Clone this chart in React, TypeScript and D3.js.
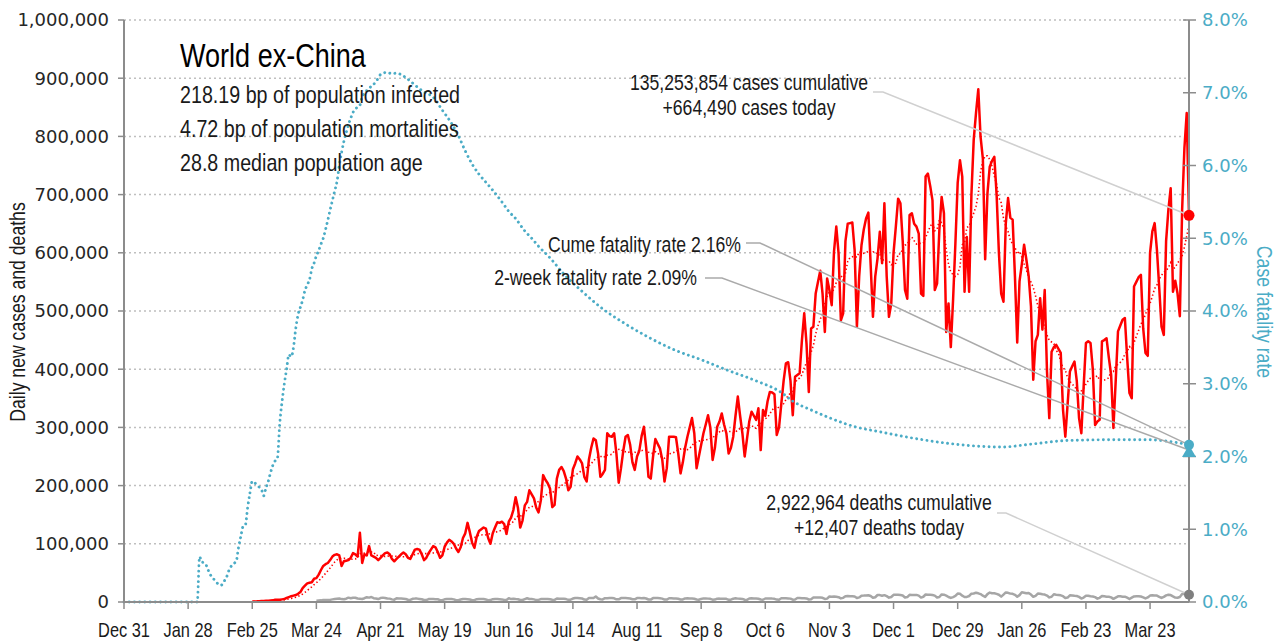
import React from 'react';
import * as d3 from 'd3';

// daily new cases, thousands, from Dec 31 2019 (one row = one week, Tue..Mon)
const dailyCases = [
    0, 0, 0, 0, 0, 0, 0,
    0, 0, 0, 0, 0, 0, 0,
    0, 0, 0, 0, 0, 0, 0,
    0, 0, 0, 0, 0.01, 0.01, 0.01,
    0.01, 0.01, 0.01, 0.02, 0.01, 0.01, 0.02,
    0.02, 0.01, 0.02, 0.03, 0.02, 0.02, 0.04,
    0.04, 0.03, 0.05, 0.07, 0.08, 0.1, 0.14,
    0.2, 0.25, 0.4, 0.5, 0.35, 0.55, 0.8,
    0.9, 1.0, 1.2, 1.5, 1.8, 1.8, 2.0,
    2.2, 2.5, 2.8, 3.8, 4.0, 3.8, 4.5,
    5.0, 7.0, 8.5, 10, 11, 12, 14,
    17, 24, 28, 32, 33, 34, 40,
    41, 47, 55, 62, 65, 67, 72,
    78, 81, 82, 80, 62, 70, 71,
    72, 76, 84, 82, 78, 119, 67,
    82, 80, 96, 80, 78, 76, 72,
    76, 80, 84, 85, 82, 74, 70,
    74, 78, 82, 85, 82, 76, 74,
    82, 90, 91, 90, 82, 72, 76,
    84, 90, 96, 94, 86, 76, 80,
    95, 102, 107, 104, 100, 92, 86,
    94, 110, 118, 136, 120, 102, 93,
    112, 122, 125, 128, 126, 110, 100,
    118, 128, 137, 136, 138, 134, 117,
    138, 145, 158, 180, 162, 128, 140,
    166, 172, 192, 185, 178, 162, 154,
    175, 218, 210, 204, 195, 163, 167,
    212, 227, 232, 225, 212, 192, 198,
    228, 238, 250, 245, 238, 215, 207,
    245, 265, 281, 278, 255, 215, 220,
    227, 290, 285, 284, 290, 255, 205,
    230, 260, 284, 287, 270, 240, 227,
    250, 260, 285, 301, 265, 215, 212,
    250, 280, 272, 264, 245, 207, 230,
    284, 284, 284, 283, 255, 221, 240,
    265, 284, 300, 316, 290, 230, 250,
    270, 290, 305, 321, 300, 244, 265,
    301, 310, 324, 305, 290, 255, 265,
    284, 320, 353, 320, 290, 250, 280,
    310, 327, 320, 313, 333, 261, 330,
    320, 345, 361, 360, 357, 287, 300,
    341, 380, 410, 412, 380, 321, 387,
    390, 393, 450, 496, 444, 361, 470,
    473, 530, 550, 569, 530, 464, 556,
    536, 510, 602, 645, 599, 484, 496,
    620, 650, 651, 652, 605, 473, 560,
    613, 640, 659, 669, 580, 490, 559,
    590, 636, 582, 685, 560, 490, 513,
    600, 645, 693, 685, 620, 536, 521,
    665, 668, 650, 645, 633, 530, 526,
    731, 736, 715, 690, 536, 547, 639,
    696, 668, 464, 513, 438, 520, 616,
    720, 759, 731, 533, 627, 533, 700,
    794, 840, 881, 799, 762, 589, 702,
    748, 758, 765, 700, 600, 530, 516,
    650, 694, 660, 657, 560, 446, 551,
    580, 614, 588, 560, 508, 382, 448,
    459, 522, 468, 536, 396, 316, 430,
    438, 442, 435, 428, 330, 284, 340,
    396, 405, 413, 380, 316, 290, 370,
    445, 448, 445, 400, 304, 310, 313,
    448, 450, 453, 420, 390, 299, 380,
    465, 475, 485, 488, 420, 359, 350,
    542, 550, 558, 562, 470, 428, 423,
    600, 637, 651, 605, 540, 473, 459,
    620, 674, 711, 533, 552, 530, 491,
    674, 780, 840, 664.49,
];

// daily deaths, thousands, same days
const dailyDeaths = [
    0, 0, 0, 0, 0, 0, 0,
    0, 0, 0, 0, 0, 0, 0,
    0, 0, 0, 0, 0, 0, 0,
    0, 0, 0, 0, 0, 0, 0,
    0, 0, 0, 0, 0, 0, 0,
    0, 0, 0, 0, 0, 0, 0,
    0, 0, 0, 0, 0, 0, 0,
    0, 0, 0, 0, 0, 0, 0.01,
    0.01, 0.02, 0.02, 0.02, 0.03, 0.04, 0.05,
    0.05, 0.08, 0.1, 0.1, 0.1, 0.2, 0.2,
    0.2, 0.3, 0.3, 0.4, 0.4, 0.6, 0.8,
    0.9, 1.0, 1.3, 1.4, 1.7, 1.8, 1.9,
    2.3, 2.6, 2.8, 3.6, 3.4, 3.3, 3.6,
    4.5, 5.0, 5.5, 6.0, 5.0, 4.6, 5.6,
    7.5, 6.5, 7.3, 7.3, 6.0, 5.6, 5.2,
    6.5, 8.2, 7.5, 8.6, 6.6, 5.9, 5.0,
    6.8, 7.5, 6.9, 6.0, 5.8, 4.5, 4.0,
    6.3, 6.0, 5.9, 5.6, 5.2, 3.8, 3.5,
    5.5, 5.8, 5.8, 5.3, 4.8, 3.5, 3.3,
    5.0, 5.1, 5.0, 4.8, 4.7, 3.2, 3.1,
    4.6, 5.2, 5.0, 5.1, 4.5, 3.0, 3.1,
    4.2, 5.0, 5.0, 4.8, 4.2, 3.0, 3.1,
    4.8, 5.0, 5.1, 5.2, 4.2, 3.2, 3.3,
    4.8, 5.2, 5.1, 4.8, 4.5, 3.5, 3.5,
    6.6, 5.0, 5.5, 5.0, 4.8, 3.4, 3.5,
    5.0, 6.5, 5.2, 5.0, 4.5, 3.3, 3.6,
    5.0, 5.0, 5.3, 5.2, 4.7, 3.8, 3.6,
    6.0, 5.5, 5.4, 5.6, 5.0, 3.7, 3.9,
    5.9, 7.0, 7.0, 6.5, 6.0, 4.2, 4.0,
    6.9, 7.0, 6.7, 9.5, 6.1, 4.8, 4.4,
    6.5, 6.6, 6.9, 6.8, 6.4, 4.6, 4.6,
    6.8, 7.0, 6.8, 6.6, 6.1, 4.8, 4.6,
    6.8, 6.9, 6.6, 6.9, 6.0, 4.3, 4.1,
    6.7, 6.8, 6.7, 6.5, 5.8, 4.2, 4.2,
    6.4, 6.5, 6.1, 6.0, 5.5, 4.4, 4.3,
    6.2, 6.3, 6.0, 5.9, 5.5, 4.3, 3.9,
    5.3, 6.2, 6.0, 5.8, 5.4, 4.0, 4.1,
    5.7, 5.8, 5.6, 5.5, 5.4, 3.8, 4.0,
    5.7, 6.3, 5.8, 5.6, 5.3, 3.9, 3.6,
    6.0, 6.3, 6.1, 6.0, 5.6, 4.3, 3.9,
    6.0, 6.1, 5.9, 5.8, 5.4, 4.1, 3.8,
    6.4, 6.3, 6.4, 6.1, 5.8, 4.0, 4.3,
    6.9, 6.8, 6.5, 6.6, 6.1, 4.3, 4.7,
    7.6, 7.9, 7.6, 7.7, 7.2, 5.2, 5.8,
    9.5, 9.2, 9.4, 9.0, 8.3, 6.2, 7.1,
    10.0, 10.4, 10.0, 9.9, 9.6, 6.8, 7.9,
    10.9, 11.0, 11.2, 11.6, 10.3, 7.2, 8.2,
    12.0, 11.9, 10.7, 11.8, 10.0, 7.5, 8.6,
    12.3, 12.3, 12.5, 12.0, 11.2, 7.8, 8.5,
    12.4, 12.0, 12.2, 12.2, 11.0, 7.6, 9.0,
    12.9, 12.6, 12.4, 12.1, 11.0, 7.8, 8.6,
    13.0, 12.6, 11.0, 8.6, 7.0, 8.5, 10.4,
    14.4, 14.1, 10.9, 8.6, 8.8, 10.3, 14.2,
    14.6, 16.0, 14.9, 13.6, 10.9, 8.8, 13.6,
    16.2, 15.0, 15.0, 13.9, 12.4, 9.2, 12.8,
    16.5, 15.8, 14.4, 14.0, 12.3, 9.2, 11.8,
    16.7, 16.0, 15.0, 15.6, 12.8, 9.0, 10.6,
    14.5, 14.2, 13.3, 12.8, 11.0, 7.9, 9.0,
    13.3, 12.6, 12.2, 11.5, 10.0, 6.8, 7.6,
    11.4, 11.3, 10.6, 10.3, 8.8, 6.0, 7.6,
    10.6, 10.6, 9.8, 9.4, 8.3, 5.8, 7.2,
    10.4, 9.8, 9.1, 9.0, 8.0, 5.4, 7.6,
    9.7, 9.7, 9.0, 9.2, 7.5, 5.2, 7.5,
    9.6, 9.8, 10.0, 9.4, 8.0, 6.1, 7.8,
    11.0, 11.5, 11.3, 11.0, 8.9, 6.9, 8.8,
    11.4, 12.4, 11.9, 9.6, 7.6, 7.3, 8.6,
    13.6, 14.0, 13.0, 12.407,
];

// cumulative case fatality rate (%), [day since Dec 31 2019, value]
const fatalityRate: [number, number][] = [
    [0, 0], [31, 0], [32, 0], [33, 0.62], [34, 0.55], [35, 0.54], [36, 0.5], [37, 0.42],
    [38, 0.36], [39, 0.32], [40, 0.29], [41, 0.25], [42, 0.23], [43, 0.24], [44, 0.3],
    [45, 0.36], [46, 0.45], [47, 0.5], [48, 0.53], [49, 0.56], [50, 0.75], [51, 0.9],
    [52, 1.04], [53, 1.06], [54, 1.3], [55, 1.5], [56, 1.66], [57, 1.64], [58, 1.61],
    [59, 1.58], [60, 1.55], [61, 1.46], [62, 1.57], [63, 1.66], [64, 1.78], [65, 1.88],
    [66, 1.94], [67, 1.98], [68, 2.45], [69, 2.75], [70, 3.0], [71, 3.2], [72, 3.4],
    [73, 3.37], [74, 3.5], [75, 3.76], [76, 3.95], [77, 4.05], [78, 4.15], [79, 4.28],
    [80, 4.36], [81, 4.43], [82, 4.58], [83, 4.66], [84, 4.76], [85, 4.83], [86, 4.92],
    [87, 5.0], [88, 5.12], [89, 5.25], [90, 5.39], [91, 5.52], [92, 5.65], [93, 5.78],
    [94, 6.0], [95, 6.18], [96, 6.33], [97, 6.45], [98, 6.56], [99, 6.65], [100, 6.73],
    [101, 6.78], [102, 6.8], [103, 6.83], [104, 6.94], [105, 7.0], [106, 7.03], [107, 7.06],
    [108, 7.09], [110, 7.15], [112, 7.25], [115, 7.28], [117, 7.26], [119, 7.27], [122, 7.23],
    [125, 7.16], [128, 7.08], [131, 7.01], [135, 6.94], [139, 6.76], [143, 6.58], [146, 6.41],
    [149, 6.2], [152, 6.02], [155, 5.88], [158, 5.77], [161, 5.66], [165, 5.5], [168, 5.37],
    [171, 5.27], [175, 5.1], [178, 5.0], [181, 4.89], [186, 4.73], [192, 4.51], [200, 4.27],
    [209, 4.03], [218, 3.84], [229, 3.64], [240, 3.47], [252, 3.33], [264, 3.18], [276, 3.04],
    [287, 2.88], [292, 2.76], [300, 2.64], [309, 2.52], [319, 2.41], [330, 2.34], [345, 2.25],
    [360, 2.18], [374, 2.14], [383, 2.13], [396, 2.17], [412, 2.22], [432, 2.23], [447, 2.23],
    [458, 2.2], [465, 2.16],
];

const twoWeekFatalityRate = 2.09;
const titleLines = ['218.19 bp of population infected', '4.72 bp of population mortalities', '28.8 median population age'];

const START = Date.UTC(2019, 11, 31);
const DAY = 864e5;
const dayDate = (i: number) => new Date(START + i * DAY);

// no condensed face installed, so squeeze Liberation Sans horizontally
const SANS = "'Liberation Sans', Arial, sans-serif";
const SQUEEZE = 0.82;
const TICKFONT = "'DejaVu Sans', 'Liberation Sans', sans-serif";
const CYAN = '#4bacc6';
const RED = '#ff0000';
const GREY = '#a6a6a6';
const AXIS = '#8c8c8c';
const INK = '#1a1a1a';

const W = 1282, H = 642;
const left = 124, right = 1189, top = 20, bottom = 602;

interface NarrowProps {
    x: number;
    y: number;
    size: number;
    anchor?: 'start' | 'middle' | 'end';
    rotate?: number;
    fill?: string;
    children: React.ReactNode;
}

const Narrow: React.FC<NarrowProps> = ({ x, y, size, anchor = 'start', rotate = 0, fill = INK, children }) => (
    <text transform={`translate(${x},${y}) rotate(${rotate}) scale(${SQUEEZE},1)`}
        textAnchor={anchor} fontFamily={SANS} fontSize={size} fill={fill}>{children}</text>
);

const App: React.FC = () => {
    const last = dailyCases.length - 1;
    const x = d3.scaleUtc().domain([dayDate(0), dayDate(last)]).range([left, right]);
    const y = d3.scaleLinear().domain([0, 1000]).range([bottom, top]);
    const yR = d3.scaleLinear().domain([0, 8]).range([bottom, top]);

    const avg7 = dailyCases.map((_, i) => d3.mean(dailyCases.slice(Math.max(0, i - 6), i + 1)) as number);

    const line = d3.line<[number, number]>()
        .x(d => x(dayDate(d[0])))
        .y(d => y(d[1]));
    const cfrLine = d3.line<[number, number]>()
        .x(d => x(dayDate(d[0])))
        .y(d => yR(d[1]))
        .curve(d3.curveMonotoneX);

    const casesPts = dailyCases.map((v, i) => [i, v] as [number, number]).slice(56);
    const avgPts = avg7.map((v, i) => [i, v] as [number, number]);
    const deathPts = dailyDeaths.map((v, i) => [i, v] as [number, number]).slice(84);

    const xTicks = d3.range(0, last, 28);
    const fmtDate = d3.utcFormat('%b %-d');
    const yTicks = y.ticks(10);
    const yRTicks = yR.ticks(8);

    const endX = x(dayDate(last));
    const casesEndY = y(dailyCases[last]);
    const deathsEndY = y(dailyDeaths[last]);
    const cfrEndY = yR(fatalityRate[fatalityRate.length - 1][1]);
    const twoWeekY = yR(twoWeekFatalityRate);

    const leader = (x0: number, y0: number, x1: number, x2: number, y2: number) =>
        `M${x0},${y0}L${x1},${y0}L${x2},${y2}`;

    return (
        <svg width={W} height={H} style={{ position: 'absolute', left: 0, top: 0, background: '#fff' }}>
            {/* grid */}
            {yTicks.filter(t => t > 0).map(t => (
                <line key={'g' + t} x1={left} x2={right} y1={y(t)} y2={y(t)}
                    stroke="#bfbfbf" strokeWidth={1.5} strokeDasharray="2 3" />
            ))}

            {/* series */}
            <path d={line(casesPts) || ''} fill="none" stroke={RED} strokeWidth={2.5} strokeLinejoin="round" />
            <path d={line(avgPts) || ''} fill="none" stroke={RED} strokeWidth={1.6} strokeDasharray="1.4 2.4" />
            <path d={line(deathPts) || ''} fill="none" stroke={GREY} strokeWidth={2.5} strokeLinejoin="round" />
            <path d={cfrLine(fatalityRate) || ''} fill="none" stroke={CYAN} strokeWidth={2.9}
                strokeDasharray="0.01 5.2" strokeLinecap="round" />

            {/* axes */}
            <line x1={left} x2={left} y1={top} y2={bottom} stroke={AXIS} strokeWidth={2} />
            <line x1={right} x2={right} y1={top} y2={bottom} stroke={AXIS} strokeWidth={2} />
            <line x1={left} x2={right} y1={bottom} y2={bottom} stroke={AXIS} strokeWidth={2} />
            {yTicks.map(t => (
                <g key={'yl' + t}>
                    <line x1={left - 6} x2={left} y1={y(t)} y2={y(t)} stroke={AXIS} strokeWidth={1.5} />
                    <text x={109} y={y(t)} dy="0.36em" textAnchor="end" fontFamily={TICKFONT}
                        fontSize={18} fill="#262626">{d3.format(',')(t * 1000)}</text>
                </g>
            ))}
            {yRTicks.map(t => (
                <g key={'yr' + t}>
                    <line x1={right - 6} x2={right + 7} y1={yR(t)} y2={yR(t)} stroke={AXIS} strokeWidth={1.5} />
                    <text x={1202} y={yR(t)} dy="0.36em" fontFamily={TICKFONT} fontSize={18}
                        fill={CYAN}>{t.toFixed(1) + '%'}</text>
                </g>
            ))}
            {xTicks.map(d => (
                <g key={'x' + d}>
                    <line x1={x(dayDate(d))} x2={x(dayDate(d))} y1={bottom} y2={bottom + 7} stroke={AXIS} strokeWidth={1.5} />
                    <Narrow x={x(dayDate(d))} y={637} size={20} anchor="middle">{fmtDate(dayDate(d))}</Narrow>
                </g>
            ))}
            <Narrow x={25} y={312} size={21.5} anchor="middle" rotate={-90}>Daily new cases and deaths</Narrow>
            <Narrow x={1257} y={312} size={21.5} anchor="middle" rotate={90} fill={CYAN}>Case fatality rate</Narrow>

            {/* title block */}
            <Narrow x={180} y={67} size={33} fill="#000">World ex-China</Narrow>
            {titleLines.map((t, i) => (
                <Narrow key={t} x={180} y={103 + i * 34} size={24}>{t}</Narrow>
            ))}

            {/* annotations */}
            <path d={leader(873, 92, 883, endX, casesEndY)} fill="none" stroke="#d0d0d0" strokeWidth={1.5} />
            <path d={leader(746, 243, 760, endX, cfrEndY)} fill="none" stroke="#aaaaaa" strokeWidth={1.5} />
            <path d={leader(705, 278, 722, endX, twoWeekY)} fill="none" stroke="#aaaaaa" strokeWidth={1.5} />
            <path d={leader(997, 513, 1006, endX, deathsEndY)} fill="none" stroke="#d0d0d0" strokeWidth={1.5} />

            <Narrow x={749} y={90} size={21.5} anchor="middle">135,253,854 cases cumulative</Narrow>
            <Narrow x={749} y={115} size={21.5} anchor="middle">+664,490 cases today</Narrow>
            <Narrow x={741} y={252} size={21.5} anchor="end">Cume fatality rate 2.16%</Narrow>
            <Narrow x={697} y={285} size={21.5} anchor="end">2-week fatality rate 2.09%</Narrow>
            <Narrow x={879} y={510} size={21.5} anchor="middle">2,922,964 deaths cumulative</Narrow>
            <Narrow x={879} y={535} size={21.5} anchor="middle">+12,407 deaths today</Narrow>

            {/* end markers */}
            <circle cx={endX} cy={casesEndY} r={5.5} fill={RED} />
            <circle cx={endX} cy={deathsEndY} r={5} fill="#7f7f7f" />
            <path d={`M${endX - 7},${twoWeekY + 7}L${endX + 7},${twoWeekY + 7}L${endX},${twoWeekY - 5}Z`} fill={CYAN} />
            <circle cx={endX} cy={cfrEndY} r={5} fill={CYAN} />
        </svg>
    );
};

export default App;
